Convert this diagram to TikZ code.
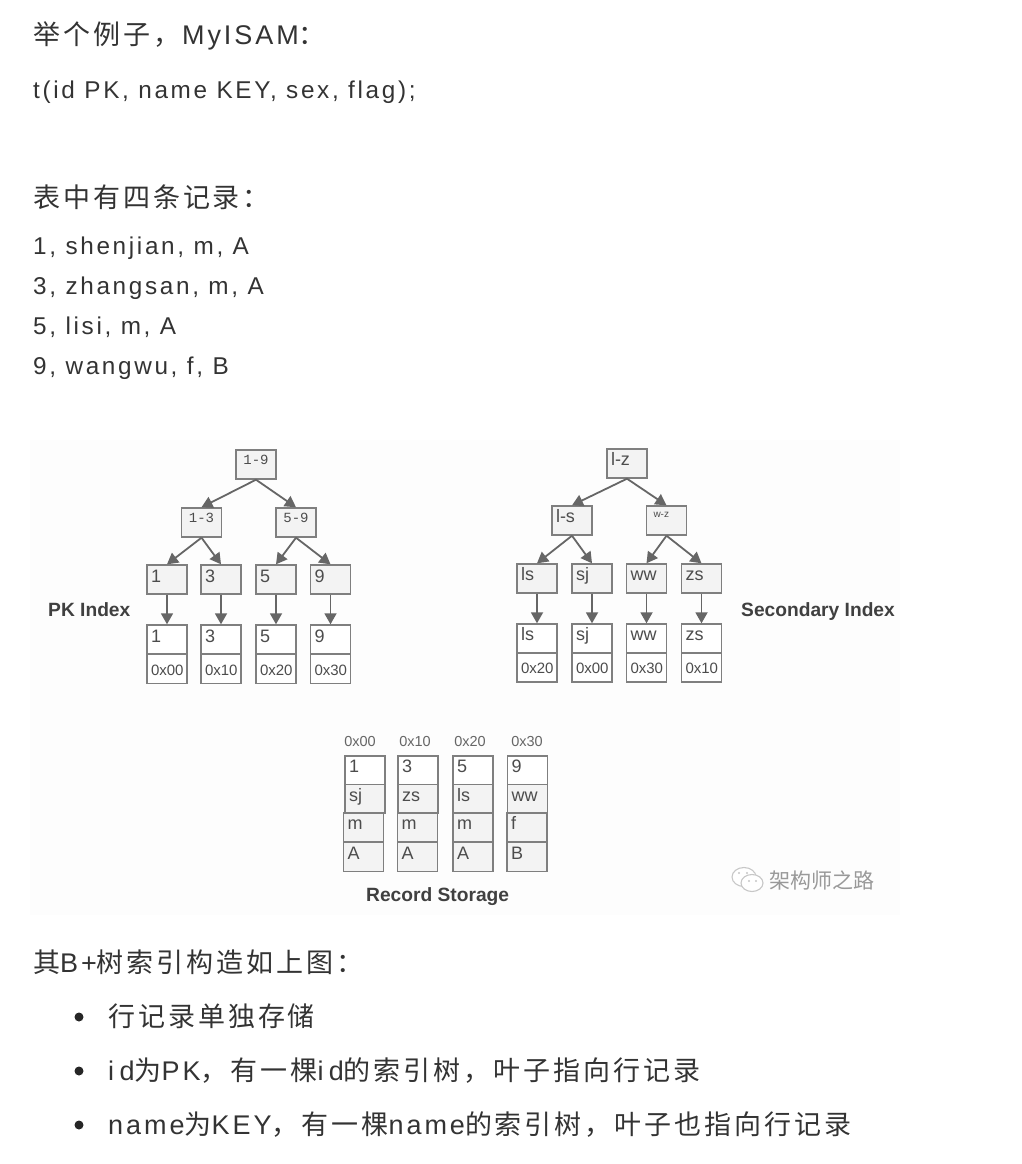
\documentclass[tikz,border=0pt]{standalone}
\usepackage{fontspec}
\setmainfont{Liberation Sans}
\newfontfamily\bodyfont[LetterSpace=11]{Liberation Sans}
\newfontfamily\widefont[LetterSpace=20]{Liberation Sans}
\newfontfamily\cjk[LetterSpace=11]{Noto Sans CJK SC}
\newfontfamily\markfont{Noto Sans CJK SC}
\newfontfamily\rangefont{Liberation Mono}
\usetikzlibrary{arrows.meta}
\definecolor{inkgray}{HTML}{333333}
\definecolor{boxline}{HTML}{7F7F7F}
\definecolor{boxfill}{HTML}{F3F3F3}
\definecolor{tipgray}{HTML}{666666}
\definecolor{figback}{HTML}{FDFDFD}
\newcommand{\sized}[1]{\fontsize{#1}{#1}\selectfont}
\tikzstyle{para}=[inner sep=0pt, anchor=base west, text=inkgray, font=\sized{27}\bodyfont]
\tikzstyle{code}=[para, font=\sized{24.3}\bodyfont]
\tikzstyle{bullet}=[circle, fill=black!85, inner sep=0pt, minimum size=9pt]
\tikzstyle{cell}=[draw=boxline, line width=1.4pt, fill=white, inner xsep=4pt, inner ysep=0pt, minimum width=40pt, minimum height=29pt, text width=32pt, align=left, text height=12pt, text depth=8pt, text=black!70, font=\sized{18}]
\tikzstyle{tcell}=[cell, fill=boxfill]
\tikzstyle{low}=[text height=14pt, text depth=8pt]
\tikzstyle{rangecell}=[tcell, align=center, text height=11pt, text depth=11pt, font=\sized{14}\rangefont]
\tikzstyle{addr}=[cell, align=center, text height=17pt, text depth=5pt, font=\sized{15}]
\tikzstyle{addrtop}=[inner sep=0pt, anchor=base, text=black!60, font=\sized{14.5}]
\tikzstyle{title}=[inner sep=0pt, anchor=base west, text=black!75, font=\sized{19.2}\bfseries]
\tikzstyle{link}=[draw=tipgray, line width=1.8pt, -{Triangle[length=11pt, width=12pt]}]

\begin{document}
\begin{tikzpicture}[x=1pt, y=-1pt]
    \useasboundingbox (0, 0) rectangle (1022, 1164);
    \fill[figback] (30, 440) rectangle (900, 915);
    % text above the figure
    \node[para] (head) at (33, 45) {\cjk 举个例子，\hspace{2pt}\bodyfont MyISAM\cjk ：};
    \node[code] (schema) at (33, 98) {t(id PK, name KEY, sex, flag);};
    \node[para] (count) at (33, 207) {\cjk 表中有四条记录：};
    \node[code] (rowa) at (33, 254) {1, shenjian, m, A};
    \node[code] (rowb) at (33, 294) {3, zhangsan, m, A};
    \node[code] (rowc) at (33, 334) {5, lisi, m, A};
    \node[code] (rowd) at (33, 374) {9, wangwu, f, B};
    % primary tree
    \node[rangecell] (Proot) at (256, 464.5) {1-9};
    \node[rangecell] (Pl) at (201.5, 522.5) {1-3};
    \node[rangecell] (Pr) at (296, 522.5) {5-9};
    \node[tcell, low] (Pa) at (167, 579.5) {1};
    \node[tcell, low] (Pb) at (221, 579.5) {3};
    \node[tcell, low] (Pc) at (276, 579.5) {5};
    \node[tcell, low] (Pd) at (330.5, 579.5) {9};
    \node[cell, low] (Pka) at (167, 639.5) {1};
    \node[cell, low] (Pkb) at (221, 639.5) {3};
    \node[cell, low] (Pkc) at (276, 639.5) {5};
    \node[cell, low] (Pkd) at (330.5, 639.5) {9};
    \node[addr] (Paddra) at (167, 669) {0x00};
    \node[addr] (Paddrb) at (221, 669) {0x10};
    \node[addr] (Paddrc) at (276, 669) {0x20};
    \node[addr] (Paddrd) at (330.5, 669) {0x30};
    \node[title] (Ptitle) at (48, 616) {PK Index};
    \draw[link] (Proot.south) -- (Pl.north);
    \draw[link] (Proot.south) -- (Pr.north);
    \draw[link] (Pl.south) -- (Pa.north);
    \draw[link] (Pl.south) -- (Pb.north);
    \draw[link] (Pr.south) -- (Pc.north);
    \draw[link] (Pr.south) -- (Pd.north);
    \draw[link] (Pa) -- (Pka);
    \draw[link] (Pb) -- (Pkb);
    \draw[link] (Pc) -- (Pkc);
    \draw[link] (Pd) -- (Pkd);
    % secondary tree
    \node[tcell] (Sroot) at (627, 463.5) {l-z};
    \node[tcell] (Sl) at (572, 520.5) {l-s};
    \node[tcell, text height=7pt, text depth=13pt, font=\sized{10}] (Sr) at (666.5, 520.5) {\hspace*{3pt}w-z};
    \node[tcell] (Sa) at (537, 578.5) {ls};
    \node[tcell] (Sb) at (592, 578.5) {sj};
    \node[tcell] (Sc) at (646.5, 578.5) {ww};
    \node[tcell] (Sd) at (701.5, 578.5) {zs};
    \node[cell] (Ska) at (537, 638.5) {ls};
    \node[cell] (Skb) at (592, 638.5) {sj};
    \node[cell] (Skc) at (646.5, 638.5) {ww};
    \node[cell] (Skd) at (701.5, 638.5) {zs};
    \node[addr] (Saddra) at (537, 667.5) {0x20};
    \node[addr] (Saddrb) at (592, 667.5) {0x00};
    \node[addr] (Saddrc) at (646.5, 667.5) {0x30};
    \node[addr] (Saddrd) at (701.5, 667.5) {0x10};
    \node[title] (Stitle) at (741, 616) {Secondary Index};
    \draw[link] (Sroot.south) -- (Sl.north);
    \draw[link] (Sroot.south) -- (Sr.north);
    \draw[link] (Sl.south) -- (Sa.north);
    \draw[link] (Sl.south) -- (Sb.north);
    \draw[link] (Sr.south) -- (Sc.north);
    \draw[link] (Sr.south) -- (Sd.north);
    \draw[link] (Sa) -- (Ska);
    \draw[link] (Sb) -- (Skb);
    \draw[link] (Sc) -- (Skc);
    \draw[link] (Sd) -- (Skd);
    % record storage
    \node[addrtop] (Ra) at (360, 746) {0x00};
    \node[addrtop] (Rb) at (415, 746) {0x10};
    \node[addrtop] (Rc) at (470, 746) {0x20};
    \node[addrtop] (Rd) at (527, 746) {0x30};
    \node[cell] (Raa) at (365, 770.5) {1};
    \node[cell] (Rba) at (418, 770.5) {3};
    \node[cell] (Rca) at (473, 770.5) {5};
    \node[cell] (Rda) at (527.5, 770.5) {9};
    \node[tcell] (Rab) at (365, 799) {sj};
    \node[tcell] (Rbb) at (418, 799) {zs};
    \node[tcell] (Rcb) at (473, 799) {ls};
    \node[tcell] (Rdb) at (527.5, 799) {ww};
    \node[tcell] (Rac) at (363.5, 827.5) {m};
    \node[tcell] (Rbc) at (417.5, 827.5) {m};
    \node[tcell] (Rcc) at (473, 827.5) {m};
    \node[tcell] (Rdc) at (527, 827.5) {f};
    \node[tcell] (Rad) at (363.5, 857) {A};
    \node[tcell] (Rbd) at (417.5, 857) {A};
    \node[tcell] (Rcd) at (473, 857) {A};
    \node[tcell] (Rdd) at (527, 857) {B};
    \node[title] (Rtitle) at (366, 901) {Record Storage};
    % watermark
    \draw[black!22, line width=1.1pt, fill=white] (744, 877) ellipse (12 and 9.5);
    \draw[black!22, line width=1.1pt, fill=white] (752, 883) ellipse (11 and 8.5);
    \fill[black!22] (739, 873) circle (1.2) (747, 873) circle (1.2) (749, 881) circle (1.1) (756, 881) circle (1.1);
    \node[inner sep=0pt, anchor=base west, text=black!40, font=\sized{21}\markfont] (mark) at (769, 888) {架构师之路};
    % text below the figure
    \node[para] (after) at (33, 972) {\cjk 其\bodyfont B+\cjk 树索引构造如上图：};
    \node[bullet] (dota) at (79, 1017) {};
    \node[bullet] (dotb) at (79, 1071) {};
    \node[bullet] (dotc) at (79, 1125) {};
    \node[para] (itema) at (108, 1026) {\cjk 行记录单独存储};
    \node[para] (itemb) at (108, 1080) {\widefont id\cjk 为\bodyfont PK\cjk ，\hspace{3pt}有一棵\widefont id\cjk 的索引树，叶子指向行记录};
    \node[para] (itemc) at (108, 1134) {name\cjk 为\bodyfont KEY\cjk ，\hspace{3pt}有一棵\bodyfont name\cjk 的索引树，叶子也指向行记录};
\end{tikzpicture}
\end{document}
